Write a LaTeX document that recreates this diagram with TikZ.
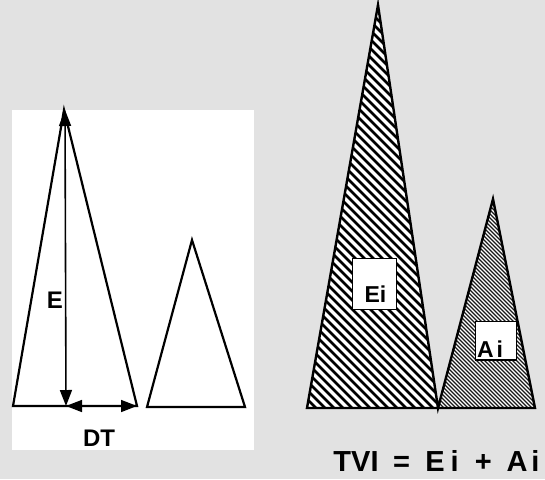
\documentclass[tikz,border=0pt]{standalone}
\usepackage{fontspec}
\setmainfont{Liberation Sans}
\usetikzlibrary{arrows.meta}
\definecolor{bg}{RGB}{226,226,226}
\begin{document}
\begin{tikzpicture}[x=1pt,y=-1pt,
  tri/.style={draw=black,line width=2.2pt,line join=miter},
  rtri/.style={draw=black,line width=2.4pt,line join=miter},
  dim/.style={line width=1.6pt,{Triangle[length=16pt,width=12pt]}-{Triangle[length=16pt,width=12pt]}},
  lbl/.style={inner sep=0pt,anchor=base,font=\fontsize{24}{24}\selectfont\bfseries},
  boxlbl/.style={inner sep=0pt,anchor=base,font=\fontsize{23}{23}\selectfont\bfseries},
  eqlbl/.style={inner sep=0pt,anchor=base,font=\fontsize{29}{29}\selectfont\bfseries},
  hatchwide/.style={line width=2.6pt},
  hatchfine/.style={line width=1.4pt,black!90},
  labbox/.style={draw=black,line width=1.3pt,fill=white}]
\useasboundingbox (0,0) rectangle (545,479);
\fill[bg] (0,0) rectangle (545,479);
\fill[white] (12,110) rectangle (254,450);
% left panel
\coordinate (A1) at (13,406);
\coordinate (A2) at (64,110);
\coordinate (A3) at (137,406);
\coordinate (B1) at (147,407);
\coordinate (B2) at (192,240);
\coordinate (B3) at (245,407);
\coordinate (top) at (65,110);
\coordinate (foot) at (66,406);
\draw[tri] (A1) -- (A2) -- (A3) -- cycle;
\draw[tri] (B1) -- (B2) -- (B3) -- cycle;
\draw[dim] (foot) -- (top);
\draw[dim] (foot) -- (A3);
\node[lbl] (E) at (55,308) {E};
\node[lbl] (DT) at (99,446) {DT};
% right panel
\coordinate (C1) at (307,408);
\coordinate (C2) at (378,5);
\coordinate (C3) at (438,408);
\coordinate (D2) at (493,199);
\coordinate (D3) at (535,408);
\fill[white] (C1) -- (C2) -- (C3) -- cycle;
\begin{scope}
  \clip (C1) -- (C2) -- (C3) -- cycle;
  \foreach \c in {-110,-101,...,450} \draw[hatchwide] (\c,0) -- ++(420,420);
\end{scope}
\fill[white] (C3) -- (D2) -- (D3) -- cycle;
\begin{scope}
  \clip (C3) -- (D2) -- (D3) -- cycle;
  \foreach \c in {210,214,...,540} \draw[hatchfine] (\c,190) -- ++(230,230);
\end{scope}
\draw[rtri] (C1) -- (C2) -- (C3) -- (D2) -- (D3) -- cycle;
\node[labbox,minimum width=44pt,minimum height=51pt,inner sep=0pt] (eibox) at (374.7,283.8) {};
\node[boxlbl] (ei) at (375.5,302.7) {Ei};
\node[labbox,minimum width=41pt,minimum height=38.3pt,inner sep=0pt] (aibox) at (496.2,340.8) {};
\node[boxlbl] (ai) at (490,357.5) {A\hspace{3pt}i};
% equation
\node[eqlbl] (tvi) at (356,471) {TVI};
\node[eqlbl] (eq) at (401.5,471) {=};
\node[eqlbl] (eisum) at (442,471) {E\hspace{6pt}i};
\node[eqlbl] (plus) at (483.3,471) {+};
\node[eqlbl] (aisum) at (523,471) {A\hspace{4pt}i};
\end{tikzpicture}
\end{document}
